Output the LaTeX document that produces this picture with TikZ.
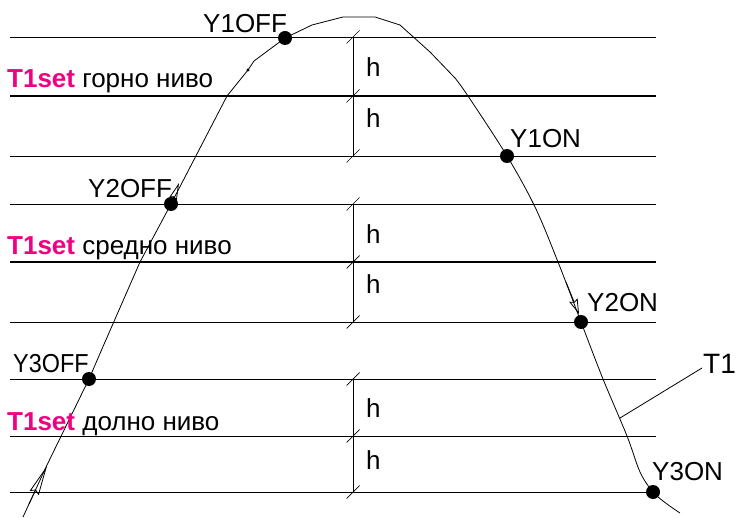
\documentclass[tikz,border=0pt]{standalone}
\usepackage{fontspec}
\setmainfont{Liberation Sans}
\usetikzlibrary{arrows.meta,calc}
\definecolor{setpink}{RGB}{240,0,130}
\begin{document}
\begin{tikzpicture}[x=1pt,y=-1pt,
  thinline/.style={line width=0.9pt},
  thickline/.style={line width=2.8pt},
  curveline/.style={line width=0.8pt, line join=round},
  dimline/.style={line width=0.7pt},
  dot/.style={circle, fill=black, inner sep=0pt, minimum size=14pt},
  lbl/.style={anchor=base west, inner sep=0pt, font=\fontsize{26}{30}\selectfont},
  openarrow/.style={line width=0.8pt}]
\useasboundingbox (0,0) rectangle (738,518);

% level lines
\foreach \n/\y in {a/37,c/156,d/204,f/322,g/379,h/436,i/492}{
  \coordinate (L\n) at (10,\y);
  \coordinate (R\n) at (656,\y);
  \draw[thinline] (L\n) -- (R\n);
}
\foreach \n/\y in {b/96,e/262}{
  \coordinate (L\n) at (10,\y);
  \coordinate (R\n) at (656,\y);
  \draw[thickline] (L\n) -- (R\n);
}

% dimension marks
\foreach \n/\y in {a/37,b/96,c/156,d/204,e/262,f/322,g/379,h/436,i/492}{
  \coordinate (D\n) at (353,\y);
  \draw[dimline] ($(D\n)+(-6.5,6.5)$) -- ($(D\n)+(6.5,-6.5)$);
}
\draw[dimline] (Da) -- (Dc);
\draw[dimline] (Dd) -- (Df);
\draw[dimline] (Dg) -- (Di);

% h labels
\foreach \n/\y in {h1/77,h2/128,h3/244,h4/294,h5/417,h6/469}{
  \node[lbl] (\n) at (366,\y) {h};
}

% switching points
\node[dot] (y1off) at (285,38) {};
\node[dot] (y1on) at (507,156) {};
\node[dot] (y2off) at (171,204) {};
\node[dot] (y2on) at (581,322) {};
\node[dot] (y3off) at (89,379) {};
\node[dot] (y3on) at (653,492) {};
\fill (248,70) circle (1.6pt);

% curve T1
\draw[curveline] (23,517) -- (47,465) -- (y3off.center) -- (105,342) -- (140,262)
  -- (y2off.center) -- (227,96) -- (248,70) -- (254,61) -- (y1off.center)
  -- (312,25) -- (343,17) -- (375,17) -- (400,25) -- (430,52) -- (455,78);
\draw[curveline] plot[smooth, tension=0.55] coordinates {(455,78) (468,96) (507,156)
  (535,207) (558,262) (581,322) (603,379) (627,436) (640,472) (653,492) (667,504) (680,513)};

% direction arrows
\draw[openarrow,-{Stealth[open,length=30pt,width=10pt,inset=3pt]}] (29,504) -- (47,466);
\draw[openarrow,-{Stealth[open,length=17pt,width=8pt,inset=2pt]}] (171,204) -- (179,183);
\draw[openarrow,-{Stealth[open,length=15pt,width=9pt,inset=2pt]}] (566,282) -- (579,314);

% labels
\node[lbl] (l1off) at (203,33) {Y1OFF};
\node[lbl] (l1on) at (510,148) {Y1ON};
\node[lbl] (l2off) at (88,198) {Y2OFF};
\node[lbl] (l2on) at (587,311) {Y2ON};
\node[lbl, xscale=0.9] (l3off) at (13,372) {Y3OFF};
\node[lbl] (l3on) at (652,480) {Y3ON};

\node[lbl] (s1) at (7,88) {{\color{setpink}\bfseries T1set} горно ниво};
\node[lbl] (s2) at (7,255) {{\color{setpink}\bfseries T1set} средно ниво};
\node[lbl] (s3) at (7,430) {{\color{setpink}\bfseries T1set} долно ниво};

% T1 label and leader
\node[lbl, font=\fontsize{28}{32}\selectfont] (T1) at (703,373) {T1};
\coordinate (t1lead) at (620,418);
\draw[curveline] (t1lead) -- ($(T1.base west)+(-1,-5)$);
\end{tikzpicture}
\end{document}
